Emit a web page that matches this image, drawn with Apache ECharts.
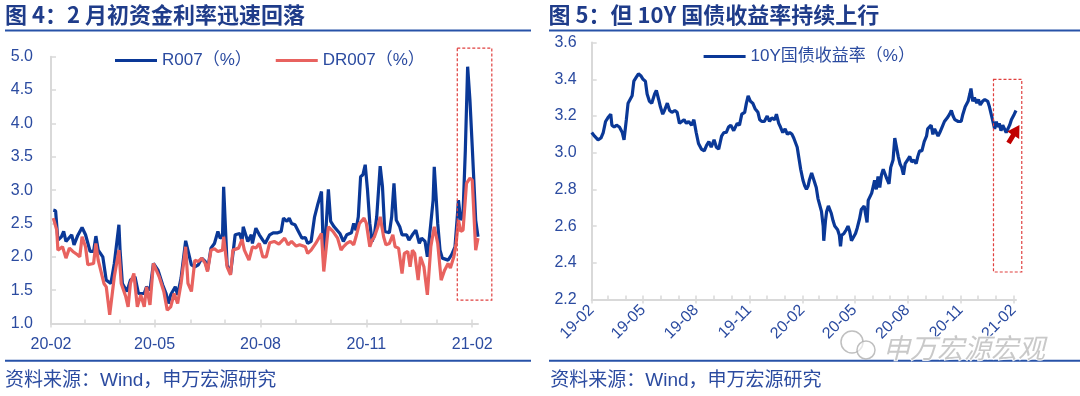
<!DOCTYPE html>
<html><head><meta charset="utf-8">
<script src="https://cdn.jsdelivr.net/npm/echarts@6/dist/echarts.min.js"></script>
<style>html,body{margin:0;padding:0;background:#fff}#c{width:1080px;height:396px}</style>
</head><body><div id="c"></div>
<script>
// ---------- Data: Fig.4 (R007 / DR007, %) ----------
const r007Dates = ['2020-02-03','2020-02-05','2020-02-07','2020-02-10','2020-02-12','2020-02-14','2020-02-19','2020-02-21','2020-02-24','2020-02-28',
'2020-03-02','2020-03-06','2020-03-09','2020-03-11','2020-03-13','2020-03-17','2020-03-20','2020-03-24','2020-03-27','2020-03-31',
'2020-04-01','2020-04-03','2020-04-07','2020-04-10','2020-04-14','2020-04-17','2020-04-22','2020-04-24','2020-04-27','2020-04-30',
'2020-05-04','2020-05-08','2020-05-11','2020-05-13','2020-05-15','2020-05-19','2020-05-21','2020-05-24','2020-05-28','2020-05-29',
'2020-06-01','2020-06-02','2020-06-05','2020-06-08','2020-06-11','2020-06-14','2020-06-16','2020-06-19','2020-06-22','2020-06-25','2020-06-27','2020-06-29','2020-06-30',
'2020-07-01','2020-07-03','2020-07-06','2020-07-09','2020-07-10','2020-07-14','2020-07-16','2020-07-17','2020-07-21','2020-07-24','2020-07-25','2020-07-28','2020-07-31',
'2020-08-03','2020-08-05','2020-08-09','2020-08-12','2020-08-16','2020-08-19','2020-08-21','2020-08-24','2020-08-26','2020-08-28','2020-08-31',
'2020-09-03','2020-09-06','2020-09-09','2020-09-11','2020-09-14','2020-09-17','2020-09-20','2020-09-23','2020-09-25','2020-09-29',
'2020-10-01','2020-10-04','2020-10-09','2020-10-12','2020-10-15','2020-10-19','2020-10-21','2020-10-23','2020-10-25','2020-10-27','2020-10-29','2020-10-31',
'2020-11-02','2020-11-04','2020-11-06','2020-11-08','2020-11-10','2020-11-13','2020-11-15','2020-11-17','2020-11-21','2020-11-23','2020-11-25','2020-11-27','2020-11-30',
'2020-12-02','2020-12-06','2020-12-08','2020-12-11','2020-12-14','2020-12-17','2020-12-19','2020-12-22','2020-12-24','2020-12-27','2020-12-29','2020-12-30',
'2021-01-02','2021-01-04','2021-01-06','2021-01-11','2021-01-14','2021-01-17','2021-01-19','2021-01-20','2021-01-22','2021-01-24','2021-01-26','2021-01-28','2021-01-30',
'2021-02-01','2021-02-04','2021-02-05','2021-02-06'];
const r007Values = [2.70,2.69,2.25,2.30,2.38,2.23,2.33,2.18,2.31,2.44,
2.33,2.08,2.08,2.31,2.10,2.00,1.65,1.60,1.90,2.48,
2.10,1.60,1.48,1.65,1.70,1.45,1.45,1.55,1.50,1.90,
1.80,1.58,1.45,1.30,1.43,1.55,1.43,1.68,2.24,2.23,
1.95,1.88,1.85,1.88,1.98,1.93,1.80,2.13,2.20,2.38,2.28,2.30,3.05,
3.03,1.88,1.75,2.18,2.33,2.35,2.23,2.45,2.23,2.33,2.20,2.43,2.33,
2.25,2.20,2.33,2.36,2.36,2.38,2.58,2.53,2.58,2.50,2.48,
2.38,2.28,2.29,2.20,2.23,2.60,2.80,2.98,1.88,3.01,
2.53,2.45,2.35,2.23,2.33,2.36,2.50,2.40,2.60,3.20,3.23,3.38,
3.00,2.50,2.23,2.33,2.60,3.36,3.05,2.38,2.36,2.60,3.10,2.55,2.45,
2.33,2.33,2.25,2.33,2.40,2.20,2.28,2.23,2.00,2.50,2.85,3.35,
2.50,2.10,1.98,1.95,2.03,2.15,2.60,2.85,2.55,2.65,3.60,4.85,4.35,
3.65,2.55,2.53,2.30];
const dr007Dates = ['2020-02-03','2020-02-06','2020-02-07','2020-02-11','2020-02-14','2020-02-17','2020-02-20','2020-02-24','2020-02-26','2020-02-28',
'2020-03-02','2020-03-04','2020-03-09','2020-03-11','2020-03-13','2020-03-18','2020-03-20','2020-03-23','2020-03-27','2020-03-31',
'2020-04-02','2020-04-06','2020-04-08','2020-04-10','2020-04-13','2020-04-16','2020-04-19','2020-04-22','2020-04-24','2020-04-27','2020-04-30',
'2020-05-05','2020-05-09','2020-05-12','2020-05-15','2020-05-18','2020-05-21','2020-05-24','2020-05-28','2020-05-30',
'2020-06-02','2020-06-05','2020-06-08','2020-06-11','2020-06-14','2020-06-16','2020-06-19','2020-06-22','2020-06-25','2020-06-29','2020-06-30',
'2020-07-03','2020-07-06','2020-07-08','2020-07-13','2020-07-16','2020-07-18','2020-07-22','2020-07-25','2020-07-28','2020-07-31',
'2020-08-03','2020-08-06','2020-08-09','2020-08-13','2020-08-17','2020-08-22','2020-08-25','2020-08-28',
'2020-09-01','2020-09-04','2020-09-09','2020-09-11','2020-09-14','2020-09-18','2020-09-23','2020-09-25','2020-09-29',
'2020-10-03','2020-10-07','2020-10-10','2020-10-12','2020-10-15','2020-10-18','2020-10-21','2020-10-23','2020-10-26','2020-10-30',
'2020-11-01','2020-11-04','2020-11-06','2020-11-08','2020-11-11','2020-11-13','2020-11-16','2020-11-18','2020-11-21','2020-11-24','2020-11-26','2020-11-29',
'2020-12-02','2020-12-04','2020-12-07','2020-12-09','2020-12-11','2020-12-13','2020-12-16','2020-12-18','2020-12-21','2020-12-24','2020-12-27','2020-12-30',
'2021-01-02','2021-01-05','2021-01-08','2021-01-11','2021-01-13','2021-01-16','2021-01-18','2021-01-20','2021-01-22','2021-01-24','2021-01-27','2021-01-30',
'2021-02-01','2021-02-04','2021-02-06'];
const dr007Values = [2.58,2.40,2.10,2.15,1.98,2.13,2.08,2.03,2.00,2.30,
2.15,1.88,1.90,2.20,1.95,1.60,1.55,1.13,1.70,2.10,
1.60,1.40,1.25,1.60,1.75,1.25,1.43,1.25,1.55,1.28,1.90,
1.70,1.48,1.20,1.25,1.45,1.30,1.60,2.15,1.60,
1.48,1.95,1.93,1.98,1.90,1.78,2.10,2.12,2.08,2.10,2.30,
1.85,1.73,2.10,2.13,2.26,2.10,1.95,2.15,2.13,2.20,
2.00,2.00,2.21,2.23,2.19,2.28,2.18,2.23,
2.16,2.18,2.15,2.05,2.10,2.20,2.35,1.78,2.45,
2.38,2.28,2.10,2.15,2.20,2.23,2.18,2.30,2.50,2.58,
2.50,2.15,2.25,2.30,2.45,2.60,2.30,2.18,2.20,2.33,2.15,2.13,
1.75,2.05,2.08,1.85,2.10,2.05,1.65,2.00,1.85,1.43,2.15,2.45,
2.20,1.65,1.80,1.90,1.83,2.00,2.20,2.55,2.38,2.40,3.10,3.18,
3.15,2.10,2.28];

// ---------- Data: Fig.5 (10Y CGB yield, %) ----------
const cgbDates = ['2019-02-01','2019-02-06','2019-02-12','2019-02-17','2019-02-21','2019-02-25','2019-03-01','2019-03-06','2019-03-08','2019-03-12','2019-03-16','2019-03-21','2019-03-26','2019-03-29',
'2019-04-02','2019-04-05','2019-04-08','2019-04-12','2019-04-15','2019-04-19','2019-04-23','2019-04-27','2019-05-01','2019-05-05','2019-05-08','2019-05-12','2019-05-16','2019-05-21','2019-05-24','2019-05-28','2019-05-31',
'2019-06-04','2019-06-07','2019-06-12','2019-06-16','2019-06-20','2019-06-25','2019-06-29','2019-07-03','2019-07-06','2019-07-11','2019-07-15','2019-07-19','2019-07-24','2019-07-28',
'2019-08-01','2019-08-05','2019-08-10','2019-08-15','2019-08-19','2019-08-23','2019-08-27','2019-09-01','2019-09-05','2019-09-09','2019-09-14','2019-09-18','2019-09-22','2019-09-26','2019-09-30',
'2019-10-05','2019-10-11','2019-10-15','2019-10-19','2019-10-24','2019-10-27','2019-10-30','2019-11-03','2019-11-07','2019-11-11','2019-11-16','2019-11-19','2019-11-23','2019-11-27',
'2019-12-02','2019-12-06','2019-12-10','2019-12-15','2019-12-18','2019-12-22','2019-12-25','2019-12-29',
'2020-01-02','2020-01-06','2020-01-10','2020-01-14','2020-01-17','2020-01-20','2020-01-23','2020-01-26','2020-01-29','2020-02-02','2020-02-05','2020-02-08','2020-02-11','2020-02-13','2020-02-17','2020-02-21','2020-02-25','2020-02-28',
'2020-03-02','2020-03-05','2020-03-08','2020-03-09','2020-03-12','2020-03-14','2020-03-17','2020-03-20','2020-03-22','2020-03-25','2020-03-28','2020-03-31',
'2020-04-02','2020-04-05','2020-04-07','2020-04-09','2020-04-13','2020-04-17','2020-04-20','2020-04-23','2020-04-26','2020-04-29',
'2020-05-03','2020-05-06','2020-05-10','2020-05-13','2020-05-18','2020-05-21','2020-05-23','2020-05-25','2020-05-28','2020-05-31',
'2020-06-03','2020-06-05','2020-06-08','2020-06-11','2020-06-14','2020-06-17','2020-06-20','2020-06-23','2020-06-26','2020-06-30',
'2020-07-03','2020-07-07','2020-07-10','2020-07-13','2020-07-16','2020-07-19','2020-07-22','2020-07-25','2020-07-28',
'2020-08-01','2020-08-05','2020-08-08','2020-08-12','2020-08-16','2020-08-19','2020-08-22','2020-08-26','2020-08-30',
'2020-09-03','2020-09-05','2020-09-08','2020-09-11','2020-09-14','2020-09-17','2020-09-20','2020-09-23','2020-09-26','2020-09-30',
'2020-10-04','2020-10-09','2020-10-13','2020-10-16','2020-10-19','2020-10-22','2020-10-24','2020-10-28',
'2020-11-02','2020-11-05','2020-11-09','2020-11-14','2020-11-17','2020-11-19','2020-11-22','2020-11-25','2020-11-29',
'2020-12-02','2020-12-05','2020-12-09','2020-12-13','2020-12-18','2020-12-21','2020-12-24','2020-12-27','2020-12-30',
'2021-01-02','2021-01-04','2021-01-07','2021-01-10','2021-01-13','2021-01-16','2021-01-19','2021-01-22','2021-01-25','2021-01-28','2021-01-31','2021-02-02','2021-02-05'];
const cgbValues = [3.11,3.09,3.07,3.08,3.11,3.17,3.19,3.21,3.15,3.14,3.15,3.14,3.11,3.07,
3.18,3.27,3.27,3.31,3.39,3.41,3.43,3.42,3.40,3.39,3.32,3.28,3.27,3.32,3.34,3.29,3.25,
3.21,3.23,3.27,3.23,3.22,3.23,3.22,3.16,3.15,3.18,3.16,3.17,3.15,3.18,
3.11,3.05,3.02,3.01,3.04,3.06,3.03,3.07,3.03,3.02,3.09,3.11,3.11,3.14,3.15,
3.12,3.16,3.15,3.21,3.22,3.27,3.31,3.28,3.27,3.24,3.22,3.18,3.17,3.17,
3.20,3.17,3.19,3.18,3.21,3.16,3.14,3.11,
3.13,3.10,3.11,3.10,3.08,3.08,3.03,2.97,2.91,2.85,2.82,2.80,2.82,2.85,2.89,2.85,2.81,2.75,
2.74,2.68,2.60,2.52,2.63,2.68,2.71,2.72,2.67,2.63,2.60,2.61,
2.58,2.55,2.49,2.55,2.56,2.58,2.60,2.57,2.52,2.51,
2.56,2.59,2.64,2.69,2.71,2.72,2.62,2.74,2.75,2.78,
2.82,2.85,2.80,2.87,2.81,2.88,2.91,2.92,2.86,2.83,
2.92,2.96,3.08,3.03,2.98,2.94,2.92,2.88,2.94,
2.96,2.98,2.95,2.96,2.94,2.98,3.01,3.01,3.06,
3.09,3.13,3.12,3.15,3.10,3.13,3.11,3.09,3.11,3.14,
3.17,3.19,3.21,3.23,3.20,3.18,3.19,3.17,
3.17,3.21,3.25,3.28,3.32,3.35,3.28,3.30,3.27,
3.29,3.26,3.28,3.29,3.28,3.25,3.21,3.17,3.13,
3.17,3.14,3.16,3.12,3.15,3.14,3.11,3.12,3.15,3.18,3.17,3.21,3.23];

// ---------- Tick / label months ----------
const leftTickMonths = ['2020-02-01','2020-03-01','2020-04-01','2020-05-01','2020-06-01','2020-07-01','2020-08-01','2020-09-01','2020-10-01','2020-11-01','2020-12-01','2021-01-01','2021-02-01'];
const leftLabelMonths = ['2020-02-01','2020-05-01','2020-08-01','2020-11-01','2021-02-01'];
const rightTickMonths = ['2019-02-01','2019-03-01','2019-04-01','2019-05-01','2019-06-01','2019-07-01','2019-08-01','2019-09-01','2019-10-01','2019-11-01','2019-12-01','2020-01-01',
'2020-02-01','2020-03-01','2020-04-01','2020-05-01','2020-06-01','2020-07-01','2020-08-01','2020-09-01','2020-10-01','2020-11-01','2020-12-01','2021-01-01','2021-02-01'];
const rightLabelMonths = ['2019-02-01','2019-05-01','2019-08-01','2019-11-01','2020-02-01','2020-05-01','2020-08-01','2020-11-01','2021-02-01'];

// annotation anchors (data space)
const leftBox = [['2021-01-19', 5.13], ['2021-02-18', 1.35]];
const rightBox = [['2020-12-28', 3.40], ['2021-02-15', 2.35]];
const arrowFromTo = [['2021-01-23', 3.053], ['2021-02-11', 3.151]];

const LABEL = '#2B4BA0';
const AXIS = '#D9D9D9';
const FONT = '"Liberation Sans", Arial, "Noto Sans CJK SC", sans-serif';
const CJK = '"Noto Sans CJK SC", "Liberation Sans", sans-serif';
const BLUE = '#0A3897';
const RED = '#E8625F';

const ts = s => echarts.time.parse(s).getTime();
const zip = (a, b) => a.map((d, i) => [ts(d), b[i]]);
const ym = v => { const d = new Date(v); return String(d.getFullYear()).slice(2) + '-' + String(d.getMonth() + 1).padStart(2, '0'); };

function dateAxes(grid, min, max, ticks, labels, rotate, margin) {
  return [{
    type: 'value', gridIndex: grid, min: ts(min), max: ts(max), scale: true,
    axisLine: { show: true, onZero: false, lineStyle: { color: AXIS, width: 2 } },
    axisTick: { show: true, customValues: ticks.map(ts), inside: true, length: 4, lineStyle: { color: AXIS, width: 1.5 } },
    axisLabel: { show: true, customValues: labels.map(ts), formatter: ym, color: LABEL, fontSize: 16, fontFamily: FONT, margin: margin, rotate: rotate, hideOverlap: false, showMinLabel: true, showMaxLabel: true },
    splitLine: { show: false }
  }, {
    type: 'value', gridIndex: grid, min: ts(min), max: ts(max), scale: true, position: 'bottom',
    axisLine: { show: false, onZero: false },
    axisTick: { show: true, customValues: labels.map(ts), inside: false, length: 4, lineStyle: { color: AXIS, width: 1.5 } },
    axisLabel: { show: false }, splitLine: { show: false }
  }];
}

const chart = echarts.init(document.getElementById('c'), null, { renderer: 'canvas', width: 1080, height: 396 });

const option = {
  animation: false,
  backgroundColor: '#ffffff',
  grid: [
    { left: 51, top: 56.7, width: 427, height: 266.8, outerBoundsMode: 'none', containLabel: false },
    { left: 591.7, top: 42.6, width: 424.3, height: 256.9, outerBoundsMode: 'none', containLabel: false }
  ],
  xAxis: [].concat(
    dateAxes(0, '2020-02-01', '2021-02-06', leftTickMonths, leftLabelMonths, 0, 13),
    dateAxes(1, '2019-02-01', '2021-02-05', rightTickMonths, rightLabelMonths, 45, 8)
  ),
  yAxis: [
    { type: 'value', gridIndex: 0, min: 1, max: 5, interval: 0.5,
      axisLine: { show: true, lineStyle: { color: AXIS, width: 2 } },
      axisTick: { show: true, inside: true, length: 5, lineStyle: { color: AXIS, width: 1.5 } },
      axisLabel: { formatter: v => v.toFixed(1), color: LABEL, fontSize: 16, fontFamily: FONT, margin: 18 },
      splitLine: { show: false } },
    { type: 'value', gridIndex: 1, min: 2.2, max: 3.6, interval: 0.2,
      axisLine: { show: true, lineStyle: { color: AXIS, width: 2 } },
      axisTick: { show: true, inside: true, length: 5, lineStyle: { color: AXIS, width: 1.5 } },
      axisLabel: { formatter: v => v.toFixed(1), color: LABEL, fontSize: 16, fontFamily: FONT, margin: 15 },
      splitLine: { show: false } }
  ],
  legend: [
    { data: ['R007（%）', 'DR007（%）'], left: 110, top: 47, icon: 'rect', itemWidth: 42, itemHeight: 3, itemGap: 24,
      textStyle: { color: LABEL, fontSize: 17, fontFamily: FONT } },
    { data: ['10Y国债收益率（%）'], left: 698.6, top: 43, icon: 'rect', itemWidth: 42, itemHeight: 3,
      textStyle: { color: LABEL, fontSize: 17, fontFamily: FONT } }
  ],
  series: [
    { name: 'R007（%）', type: 'line', xAxisIndex: 0, yAxisIndex: 0, data: zip(r007Dates, r007Values),
      symbol: 'none', lineStyle: { color: BLUE, width: 3.2 }, itemStyle: { color: BLUE }, z: 2 },
    { name: 'DR007（%）', type: 'line', xAxisIndex: 0, yAxisIndex: 0, data: zip(dr007Dates, dr007Values),
      symbol: 'none', lineStyle: { color: RED, width: 3.2 }, itemStyle: { color: RED }, z: 3 },
    { name: '10Y国债收益率（%）', type: 'line', xAxisIndex: 2, yAxisIndex: 1, data: zip(cgbDates, cgbValues),
      symbol: 'none', lineStyle: { color: BLUE, width: 3.2 }, itemStyle: { color: BLUE }, z: 2 }
  ],
  graphic: [
    { type: 'text', left: 5, top: 4, style: { text: '图 4：2 月初资金利率迅速回落', font: 'bold 22px ' + CJK, fill: '#1F3C8A' } },
    { type: 'text', left: 548.6, top: 4, style: { text: '图 5：但 10Y 国债收益率持续上行', font: 'bold 22px ' + CJK, fill: '#1F3C8A' } },
    { type: 'line', shape: { x1: 5, y1: 30.5, x2: 531, y2: 30.5 }, style: { stroke: '#2752A8', lineWidth: 2 } },
    { type: 'line', shape: { x1: 549, y1: 30.5, x2: 1080, y2: 30.5 }, style: { stroke: '#2752A8', lineWidth: 2 } },
    { type: 'line', shape: { x1: 5, y1: 360.7, x2: 531, y2: 360.7 }, style: { stroke: '#2752A8', lineWidth: 2 } },
    { type: 'line', shape: { x1: 549, y1: 360.7, x2: 1080, y2: 360.7 }, style: { stroke: '#2752A8', lineWidth: 2 } },
    { type: 'text', left: 5, top: 371, style: { text: '资料来源：Wind，申万宏源研究', font: '19px ' + FONT, fill: LABEL } },
    { type: 'text', left: 550.3, top: 371, style: { text: '资料来源：Wind，申万宏源研究', font: '19px ' + FONT, fill: LABEL } }
  ]
};
chart.setOption(option);

// Annotation boxes and arrow, positioned from data coordinates through the grids
const px = (g, p) => chart.convertToPixel({ gridIndex: g }, [ts(p[0]), p[1]]);
const lb0 = px(0, leftBox[0]), lb1 = px(0, leftBox[1]);
const rb0 = px(1, rightBox[0]), rb1 = px(1, rightBox[1]);
const S = px(1, arrowFromTo[0]), T = px(1, arrowFromTo[1]);
const dx = T[0] - S[0], dy = T[1] - S[1], L = Math.hypot(dx, dy);
const ux = dx / L, uy = dy / L, nx = -uy, ny = ux;
const h = 12, w = 7, s = 2.5;
const bx = T[0] - h * ux, by = T[1] - h * uy;
const arrowPts = [
  [T[0], T[1]], [bx + w * nx, by + w * ny], [bx + s * nx, by + s * ny], [S[0] + s * nx, S[1] + s * ny],
  [S[0] - s * nx, S[1] - s * ny], [bx - s * nx, by - s * ny], [bx - w * nx, by - w * ny]
];
const boxStyle = { fill: 'none', stroke: '#E0403F', lineWidth: 1.2, lineDash: [3, 2] };
chart.setOption({
  graphic: option.graphic.concat([
    { type: 'rect', shape: { x: lb0[0], y: lb0[1], width: lb1[0] - lb0[0], height: lb1[1] - lb0[1] }, style: boxStyle, z: 10 },
    { type: 'rect', shape: { x: rb0[0], y: rb0[1], width: rb1[0] - rb0[0], height: rb1[1] - rb0[1] }, style: boxStyle, z: 10 },
    { type: 'polygon', shape: { points: arrowPts }, style: { fill: '#C00000' }, z: 10 },
    { type: 'circle', shape: { cx: 852, cy: 342, r: 11 }, style: { fill: 'rgba(255,255,255,0.6)', stroke: 'rgba(175,175,175,0.8)', lineWidth: 1.5 }, z: 20 },
    { type: 'circle', shape: { cx: 866, cy: 350, r: 9 }, style: { fill: 'rgba(255,255,255,0.6)', stroke: 'rgba(175,175,175,0.8)', lineWidth: 1.5 }, z: 21 },
    { type: 'text', left: 882, top: 333, z: 22, style: { text: '申万宏源宏观', font: 'italic 27px ' + CJK, fill: 'rgba(165,165,165,0.6)', stroke: 'rgba(255,255,255,0.9)', lineWidth: 2 } }
  ])
}, { replaceMerge: ['graphic'] });
</script>
</body></html>
